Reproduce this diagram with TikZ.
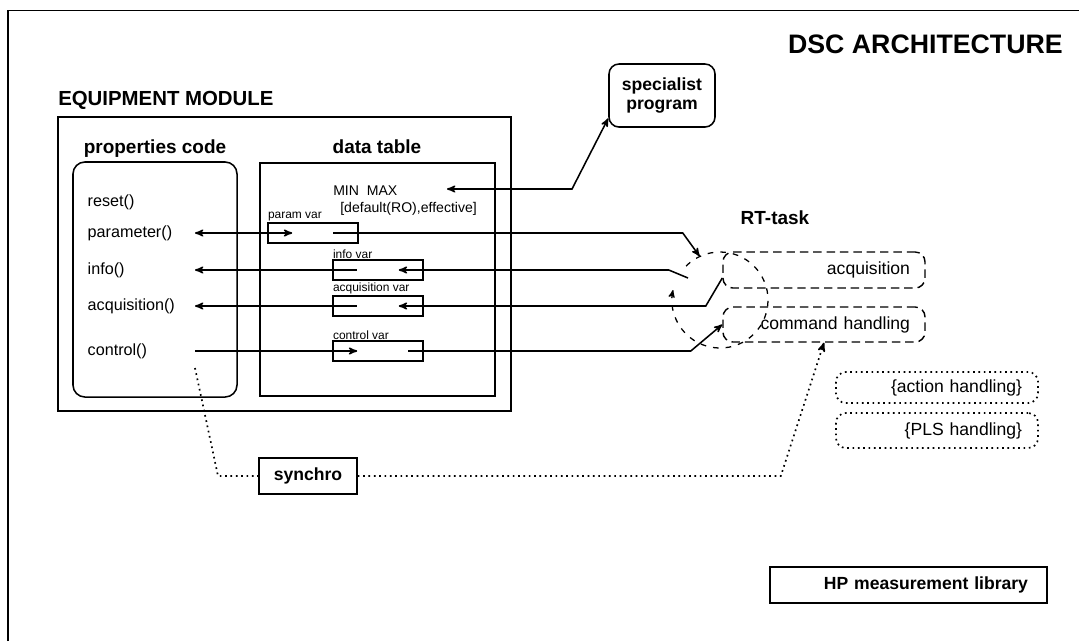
\documentclass[tikz,border=0pt]{standalone}
\usepackage{fontspec}
\setmainfont{Liberation Sans}
\usetikzlibrary{arrows}
\usetikzlibrary{positioning}
\usetikzlibrary{calc}
\usetikzlibrary{shapes.geometric}

\begin{document}
\begin{tikzpicture}[x=0.025cm,y=-0.025cm,>=stealth']
		\tikzset{box/.style = {shape=rectangle, draw, line width=1.1pt, inner sep=0pt},
			roundbox/.style = {box, rounded corners=0.25cm},
			title/.style = {inner sep=0pt, font=\fontsize{13.5}{15}\selectfont\bfseries},
			item/.style = {anchor=east, text width=2.675cm, align=left, inner sep=0pt, font=\fontsize{11.5}{13}\selectfont},
			varbox/.style = {box, minimum width=2.25cm, minimum height=0.5cm},
			varlbl/.style = {anchor=south west, inner sep=0.4pt, font=\fontsize{8.5}{9}\selectfont},
			rtbox/.style = {shape=rectangle, rounded corners=7pt, draw, line width=1pt, dash pattern=on 6pt off 3.5pt, text width=4.3cm, inner xsep=0.375cm, inner ysep=0pt, align=right, font=\fontsize{12.5}{14}\selectfont},
			optbox/.style = {rtbox, dash pattern=on 1.2pt off 2.6pt, line width=1.2pt, text width=4.25cm, inner xsep=0.4cm},
			wire/.style = {line width=1.1pt},
			rtcycle/.style = {line width=0.9pt, dash pattern=on 4pt off 5pt},
			sync/.style = {line width=1.2pt, dash pattern=on 1.2pt off 2.6pt}}
		\useasboundingbox (0,0) rectangle (1079,641);
		\draw[line width=1.4pt] (8,641) |- (1079,10.5);
		
		\node[title, anchor=base east, font=\fontsize{19}{21}\selectfont\bfseries] (DSCTITLE) at (1063,53) {DSC ARCHITECTURE};
		
		% equipment module with its two parts
		\node[title, anchor=base west, font=\fontsize{14.5}{16}\selectfont\bfseries] (EQTITLE) at (58,105) {EQUIPMENT MODULE};
		\node[box, line width=1.4pt, minimum width=11.325cm, minimum height=7.35cm] (EQUIP) at (284.5,264) {};
		\node[roundbox, minimum width=4.1cm, minimum height=5.875cm, rounded corners=0.3cm] (PROPS) at (155,279.5) {};
		\node[box, minimum width=5.875cm, minimum height=5.825cm] (TABLE) at (377.5,279.5) {};
		\node[title, anchor=base] (PROPTITLE) at (155,153) {properties code};
		\node[title, anchor=base] (TABTITLE) at (377,153) {data table};
		
		\node[item] (RESET) at (195,202) {reset()};
		\node[item] (PARAM) at (195,233) {parameter()};
		\node[item] (INFO) at (195,270) {info()};
		\node[item] (ACQU) at (195,306) {acquisition()};
		\node[item] (CTRL) at (195,351) {control()};
		
		\node[anchor=west, align=left, inner sep=0pt, font=\fontsize{10}{12}\selectfont] (MINMAX) at (333,201)
		{MIN\ \ MAX\\\hspace*{5pt}[default(RO),effective]};
		\node[varbox, label={[varlbl]north west:param var}] (PVAR) at (313,233) {};
		\node[varbox, label={[varlbl]north west:info var}] (IVAR) at (378,270) {};
		\node[varbox, label={[varlbl]north west:acquisition var}] (AVAR) at (378,306) {};
		\node[varbox, label={[varlbl]north west:control var}] (CVAR) at (378,351) {};
		
		\node[roundbox, minimum width=2.65cm, minimum height=1.575cm, align=center, font=\fontsize{12.5}{13.5}\selectfont\bfseries] (SPEC) at (662,95.5) {specialist\\program};
		
		% real-time task
		\node[title, anchor=base] (RTTITLE) at (775,224) {RT-task};
		\node[circle, minimum size=2.4cm, inner sep=0pt] (RTLOOP) at (720,300) {};
		\node[rtbox, minimum height=0.9cm] (RTACQ) at (824,270) {acquisition};
		\node[rtbox, minimum height=0.875cm] (RTCMD) at (824,324.5) {command handling};
		\node[optbox, minimum height=0.775cm] (ACTION) at (937,387.5) {\{action handling\}};
		\node[optbox, minimum height=0.875cm] (PLS) at (937,430.5) {\{PLS handling\}};
		\draw[rtcycle,->] (RTLOOP.center) ++(-135:48) arc (-135:192:48);
		
		\node[box, minimum width=2.45cm, minimum height=0.9cm, font=\fontsize{12.5}{14}\selectfont\bfseries] (SYNC) at (308,476) {synchro};
		\node[box, minimum width=6.925cm, minimum height=0.9cm, text width=5.975cm, inner xsep=0.475cm, align=right, font=\fontsize{12.5}{14}\selectfont\bfseries] (HPLIB) at (908.5,585) {HP measurement library};
		
		\coordinate (MMTIP) at (447,189);
		\coordinate (INFOEND) at (688,278);
		\coordinate (SYNCPIN) at (195,368);
		
		\draw[wire,<->] (MMTIP) -- ++(125,0) -- (SPEC.203);
		
		\draw[wire,->] (PVAR.west) -- (PARAM.east);
		\draw[wire,->] (PVAR.west) -- ++(25,0);
		\draw[wire] (PVAR.east) -- ++(-26,0);
		\draw[wire,->] (PVAR.east) -- ++(324,0) -- (RTLOOP.115);
		
		\draw[wire,->] (IVAR.west) -- (INFO.east);
		\draw[wire] (IVAR.west) -- ++(25,0);
		\draw[wire,->] (IVAR.east) -- ++(-25,0);
		\draw[wire] (IVAR.east) -- ++(245,0) -- (INFOEND);
		
		\draw[wire,->] (AVAR.west) -- (ACQU.east);
		\draw[wire] (AVAR.west) -- ++(25,0);
		\draw[wire,->] (AVAR.east) -- ++(-25,0);
		\draw[wire] (AVAR.east) -- ++(282,0) -- ($(RTACQ.west)+(0,8)$);
		
		\draw[wire] (CTRL.east) -- (CVAR.west);
		\draw[wire,->] (CVAR.west) -- ++(25,0);
		\draw[wire] (CVAR.east) -- ++(-16,0);
		\draw[wire,->] (CVAR.east) -- ++(267,0) -- (RTCMD.west);
		
		\draw[sync] (SYNCPIN) -- ++(23,108) -- (SYNC.west);
		\draw[sync,->] (SYNC.east) -- ++(423,0) -- (RTCMD.south);
		
		\end{tikzpicture}
\end{document}
